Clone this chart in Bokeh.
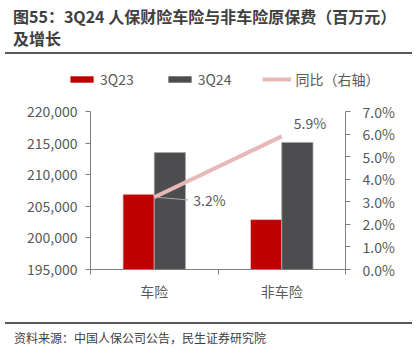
from bokeh.plotting import figure
from bokeh.models import (ColumnDataSource, Range1d, LinearAxis, FixedTicker,
                          NumeralTickFormatter, Legend, LegendItem, Div, CDSView, IndexFilter)
from bokeh.layouts import column
from bokeh.transform import dodge
from bokeh.core.properties import value
from bokeh.embed import file_html
from bokeh.resources import INLINE

# ---- data ----
categories = ["车险", "非车险"]
q23 = [206900, 202900]
q24 = [213500, 215100]
yoy = [0.032, 0.059]
yoy_labels = ["3.2%", "5.9%"]
left_ticks = [195000, 200000, 205000, 210000, 215000, 220000]
right_ticks = [0.0, 0.01, 0.02, 0.03, 0.04, 0.05, 0.06, 0.07]
series_names = ["3Q23", "3Q24", "同比（右轴）"]
title_text = "图55：3Q24 人保财险车险与非车险原保费（百万元）<br>及增长"
source_text = "资料来源：中国人保公司公告，民生证券研究院"

FONT = "Noto Sans CJK SC"
TXT = "#595959"
AX = "#7F7F7F"
RED = "#C00000"
GREY = "#4D4D4F"
PINK = "#E6B9B8"

xpos = [i + 0.5 for i in range(len(categories))]
src = ColumnDataSource(dict(x=xpos, q23=q23, q24=q24, yoy=yoy, lab=yoy_labels))

p = figure(width=416, height=218, x_range=Range1d(0, len(categories)),
           y_range=Range1d(left_ticks[0], left_ticks[-1]),
           output_backend="svg", toolbar_location=None, frame_align=False,
           min_border_left=90, min_border_right=71, min_border_top=11, min_border_bottom=49)
p.outline_line_color = None
p.grid.visible = False
p.extra_y_ranges = {"pct": Range1d(right_ticks[0], right_ticks[-1])}

# x axis
xa = p.xaxis[0]
xa.ticker = FixedTicker(ticks=xpos, minor_ticks=list(range(len(categories) + 1)))
xa.major_label_overrides = {x: c for x, c in zip(xpos, categories)}
xa.major_tick_line_color = None
xa.major_tick_out = 0
xa.major_tick_in = 0
xa.minor_tick_out = 5
xa.minor_tick_in = 0
xa.minor_tick_line_color = AX
xa.axis_line_color = AX
xa.major_label_standoff = 6
xa.major_label_text_font = FONT
xa.major_label_text_font_size = "14px"
xa.major_label_text_color = TXT

# left axis
ya = p.yaxis[0]
ya.ticker = FixedTicker(ticks=left_ticks)
ya.formatter = NumeralTickFormatter(format="0,0")
ya.axis_line_color = AX
ya.major_tick_line_color = AX
ya.major_tick_out = 5
ya.major_tick_in = 0
ya.minor_tick_line_color = None
ya.major_label_standoff = 8
ya.major_label_text_font = FONT
ya.major_label_text_font_size = "14px"
ya.major_label_text_color = TXT

# right axis
ra = LinearAxis(y_range_name="pct", ticker=FixedTicker(ticks=right_ticks),
                formatter=NumeralTickFormatter(format="0.0%"))
ra.axis_line_color = AX
ra.major_tick_line_color = AX
ra.major_tick_out = 5
ra.major_tick_in = 0
ra.minor_tick_line_color = None
ra.major_label_standoff = 12
ra.major_label_text_font = FONT
ra.major_label_text_font_size = "14px"
ra.major_label_text_color = TXT
p.add_layout(ra, "right")

base = left_ticks[0]
bw = 0.245
p.vbar(x=dodge("x", -bw / 2), top="q23", bottom=base, width=bw, source=src,
       fill_color=RED, line_color="#E8C8C8", line_width=0.8)
p.vbar(x=dodge("x", bw / 2), top="q24", bottom=base, width=bw, source=src,
       fill_color=GREY, line_color="#A6A6A6", line_width=0.8)
p.line(x="x", y="yoy", y_range_name="pct", source=src,
       line_color=PINK, line_width=4)

# data labels (+ leader line for the first one)
v0 = CDSView(filter=IndexFilter([0]))
v1 = CDSView(filter=IndexFilter([1]))
p.segment(x0=dodge("x", 0.02), y0="yoy", x1=dodge("x", 0.265), y1=dodge("yoy", -0.0012),
          y_range_name="pct", source=src, view=v0, line_color="#A6A6A6", line_width=1)
p.text(x="x", y="yoy", text="lab", y_range_name="pct", source=src, view=v0,
       x_offset=39, y_offset=3, text_baseline="middle", text_align="left",
       text_font=value(FONT), text_font_size="14px", text_color=TXT)
p.text(x="x", y="yoy", text="lab", y_range_name="pct", source=src, view=v1,
       x_offset=12, y_offset=-13, text_baseline="middle", text_align="left",
       text_font=value(FONT), text_font_size="14px", text_color=TXT)

# ---- legend strip (own canvas so the legend can be wider than the plot frame) ----
lf = figure(width=416, height=45, output_backend="svg", toolbar_location=None,
            x_range=Range1d(-3, -2), y_range=Range1d(-3, -2), frame_align=False,
            min_border=0, min_border_left=0, min_border_right=0,
            min_border_top=0, min_border_bottom=0)
lf.axis.visible = False
lf.grid.visible = False
lf.outline_line_color = None
# legend keys reuse the real series; the strip's ranges keep them out of view
k1 = lf.vbar(x="x", top="q23", width=bw, source=src, fill_color=RED, line_color=None)
k2 = lf.vbar(x="x", top="q24", width=bw, source=src, fill_color=GREY, line_color=None)
k3 = lf.line(x="x", y="yoy", source=src, line_color=PINK, line_width=4)
legend = Legend(items=[LegendItem(label=series_names[0], renderers=[k1]),
                       LegendItem(label=series_names[1], renderers=[k2]),
                       LegendItem(label=series_names[2], renderers=[k3])],
                location=(67, 11), orientation="horizontal")
legend.border_line_color = None
legend.background_fill_alpha = 0
legend.padding = 0
legend.margin = 0
legend.spacing = 31
legend.label_standoff = 4
legend.glyph_width = 29
legend.glyph_height = 8
legend.label_text_font = FONT
legend.label_text_font_size = "14px"
legend.label_text_color = TXT
lf.add_layout(legend, "center")

title = Div(text=(
    '<div style="box-sizing:border-box;width:407px;height:54px;margin-left:5px;'
    'padding:5px 0 0 8px;border-bottom:2px solid #595959;'
    f'font-family:\'{FONT}\';font-size:16px;font-weight:bold;color:#404040;line-height:22px;">'
    f'{title_text}</div>'), width=416, height=55, margin=0)

footer = Div(text=(
    '<div style="box-sizing:border-box;width:407px;margin-left:5px;margin-top:4px;'
    'padding:6px 0 0 9px;border-top:2px solid #595959;'
    f'font-family:\'{FONT}\';font-size:12px;color:#404040;line-height:16px;">'
    f'{source_text}</div>'), width=416, height=35, margin=0)

page = column(title, lf, p, footer, spacing=0, margin=0)
open("out.html", "w").write(file_html(page, INLINE))
